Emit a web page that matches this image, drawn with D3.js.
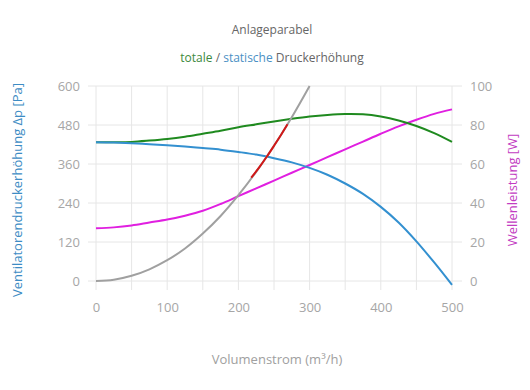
<!DOCTYPE html>
<html>
<head>
<meta charset="utf-8">
<script src="https://cdn.jsdelivr.net/npm/d3@7"></script>
<style>
  body { margin: 0; background: #fff; }
  text { font-family: "Open Sans", sans-serif; }
</style>
</head>
<body>
<div id="chart"></div>
<script>
// volume flow (m3/h)
var flow = [0, 25, 50, 75, 100, 125, 150, 175, 200, 225, 250, 275, 300, 325, 350, 375, 400, 425, 450, 475, 500];
// static pressure rise (Pa)
var statische = [427, 426, 424, 421, 418, 414, 409, 404, 397, 389, 378, 365, 348, 327, 300, 268, 228, 180, 122, 57, -12];
// total pressure rise (Pa)
var totale = [427, 427, 428, 432, 437, 444, 453, 462, 473, 482, 491, 499, 506, 511, 514, 513, 506, 494, 477, 455, 428];
// shaft power (W)
var leistung = [27, 27.5, 28.5, 30, 31.5, 33.5, 36, 39.5, 43.5, 47.5, 51.5, 55.5, 59.5, 63.5, 67.5, 71.5, 75.5, 79.3, 82.7, 85.7, 88];
// system curve (Pa)
var parabelFlow = [0, 25, 50, 75, 100, 125, 150, 175, 200, 225, 250, 275, 300];
var parabel = [0, 4, 16, 36, 64, 100, 146, 200, 264, 336, 416, 504, 600];
// highlighted part of system curve
var rotFlow = [218, 230, 240, 250, 260, 269];
var rot = [318, 352, 383, 416, 450, 482];

var xTicks = [0, 100, 200, 300, 400, 500];
var yTicks = [0, 120, 240, 360, 480, 600];
var y2Ticks = [0, 20, 40, 60, 80, 100];

var svg = d3.select("#chart").append("svg").attr("width", 530).attr("height", 390),
    margin = {top: 86, right: 78, bottom: 109, left: 96},
    width = 530 - margin.left - margin.right,
    height = 390 - margin.top - margin.bottom;

var x = d3.scaleLinear().domain([0, 500]).range([0, width]);
var y = d3.scaleLinear().domain([0, 600]).range([height, 0]);
var y2 = d3.scaleLinear().domain([0, 100]).range([height, 0]);

var g = svg.append("g").attr("transform", "translate(" + margin.left + "," + margin.top + ")");

// grid
g.append("g").selectAll("line")
  .data(d3.range(0, 501, 50))
  .enter().append("line")
    .attr("x1", function(d) { return x(d); }).attr("x2", function(d) { return x(d); })
    .attr("y1", 0).attr("y2", height + 9)
    .attr("stroke", "#e6e6e6");
g.append("g").selectAll("line")
  .data(yTicks)
  .enter().append("line")
    .attr("x1", -8).attr("x2", width + 10)
    .attr("y1", function(d) { return y(d); }).attr("y2", function(d) { return y(d); })
    .attr("stroke", "#e6e6e6");

// axes
var xAxis = g.append("g").attr("transform", "translate(0," + height + ")")
  .call(d3.axisBottom(x).tickValues(xTicks).tickSize(0).tickPadding(22));
var yAxis = g.append("g")
  .call(d3.axisLeft(y).tickValues(yTicks).tickSize(0).tickPadding(16));
var y2Axis = g.append("g").attr("transform", "translate(" + width + ",0)")
  .call(d3.axisRight(y2).tickValues(y2Ticks).tickSize(0).tickPadding(18));
[xAxis, yAxis, y2Axis].forEach(function(a) {
  a.select(".domain").remove();
  a.selectAll("text").attr("fill", "#a6a6a6").attr("font-size", 13).attr("font-family", "Open Sans, sans-serif");
});

function line(xs, ys, scale) {
  return d3.line()
    .x(function(d, i) { return x(xs[i]); })
    .y(function(d) { return scale(d); })
    .curve(d3.curveCatmullRom)(ys);
}

function draw(xs, ys, scale, color) {
  g.append("path")
    .attr("d", line(xs, ys, scale))
    .attr("fill", "none")
    .attr("stroke", color)
    .attr("stroke-width", 2);
}

draw(flow, leistung, y2, "#e01fe0");
draw(flow, totale, y, "#1f8a1f");
draw(flow, statische, y, "#3390d0");
draw(parabelFlow, parabel, y, "#a0a0a0");
draw(rotFlow, rot, y, "#d01818");

// titles
svg.append("text").attr("x", 272).attr("y", 34).attr("text-anchor", "middle")
  .attr("font-size", 12).attr("fill", "#666").text("Anlageparabel");
var sub = svg.append("text").attr("x", 272).attr("y", 62).attr("text-anchor", "middle")
  .attr("font-size", 12);
sub.append("tspan").attr("fill", "#3d8a3d").text("totale");
sub.append("tspan").attr("fill", "#666").text(" / ");
sub.append("tspan").attr("fill", "#4a90c4").text("statische");
sub.append("tspan").attr("fill", "#666").text(" Druckerhöhung");

svg.append("text").attr("x", 277).attr("y", 364).attr("text-anchor", "middle")
  .attr("font-size", 13).attr("fill", "#a0a0a0").text("Volumenstrom (m³/h)");

svg.append("text").attr("transform", "translate(22,190) rotate(-90)").attr("text-anchor", "middle")
  .attr("font-size", 13).attr("fill", "#3d8cc4").text("Ventilatorendruckerhöhung Δp [Pa]");

svg.append("text").attr("transform", "translate(517,190) rotate(-90)").attr("text-anchor", "middle")
  .attr("font-size", 13).attr("fill", "#c23cc2").text("Wellenleistung [W]");
</script>
</body>
</html>
